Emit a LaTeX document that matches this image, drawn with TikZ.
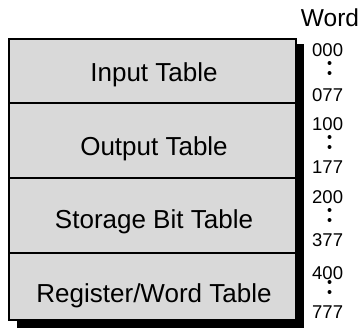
\documentclass[tikz,border=0pt]{standalone}
\usepackage{fontspec}
\setmainfont{Liberation Sans}
\usepackage{xcolor}
\usepackage{tikz}
\usetikzlibrary{positioning}
\definecolor{tablegray}{RGB}{217,217,217}

\begin{document}
\begin{tikzpicture}[
    x=1pt, y=-1pt,
    row/.style={draw, fill=tablegray, line width=2.2pt, minimum width=287pt, inner sep=0pt},
    lbl/.style={anchor=base, inner sep=0pt, font=\fontsize{26}{30}\selectfont},
    addr/.style={anchor=base west, inner sep=0pt, font=\fontsize{18.5}{20}\selectfont},
]
    \useasboundingbox (0,0) rectangle (362,329);

    % Shadow
    \fill[black] (17,44) rectangle (304,328);

    % Rows
    \node[row, minimum height=64pt] (input) at (152.5,71) {};
    \node[row, minimum height=75pt] (output) at (152.5,140.5) {};
    \node[row, minimum height=75pt] (storage) at (152.5,215.5) {};
    \node[row, minimum height=67pt] (regword) at (152.5,286.5) {};

    % Row labels
    \node[lbl] (inputlbl) at (154,82) {Input Table};
    \node[lbl] (outputlbl) at (154,155) {Output Table};
    \node[lbl] (storagelbl) at (154,228) {Storage Bit Table};
    \node[lbl] (regwordlbl) at (154,302) {Register/Word Table};

    % Word addresses
    \node[anchor=base, inner sep=0pt, font=\fontsize{24.5}{28}\selectfont] (word) at (330,27) {Word};
    \node[addr] (a000) at (312,57) {000};
    \node[addr] (a077) at (312,102) {077};
    \node[addr] (a100) at (312,131) {100};
    \node[addr] (a177) at (312,173) {177};
    \node[addr] (a200) at (312,204) {200};
    \node[addr] (a377) at (312,246) {377};
    \node[addr] (a400) at (312,279) {400};
    \node[addr] (a777) at (312,318) {777};

    % Dots
    \foreach \y in {63,73,137,147,210,220,282,292}
        \fill (329.5,\y) circle (2);
\end{tikzpicture}
\end{document}
